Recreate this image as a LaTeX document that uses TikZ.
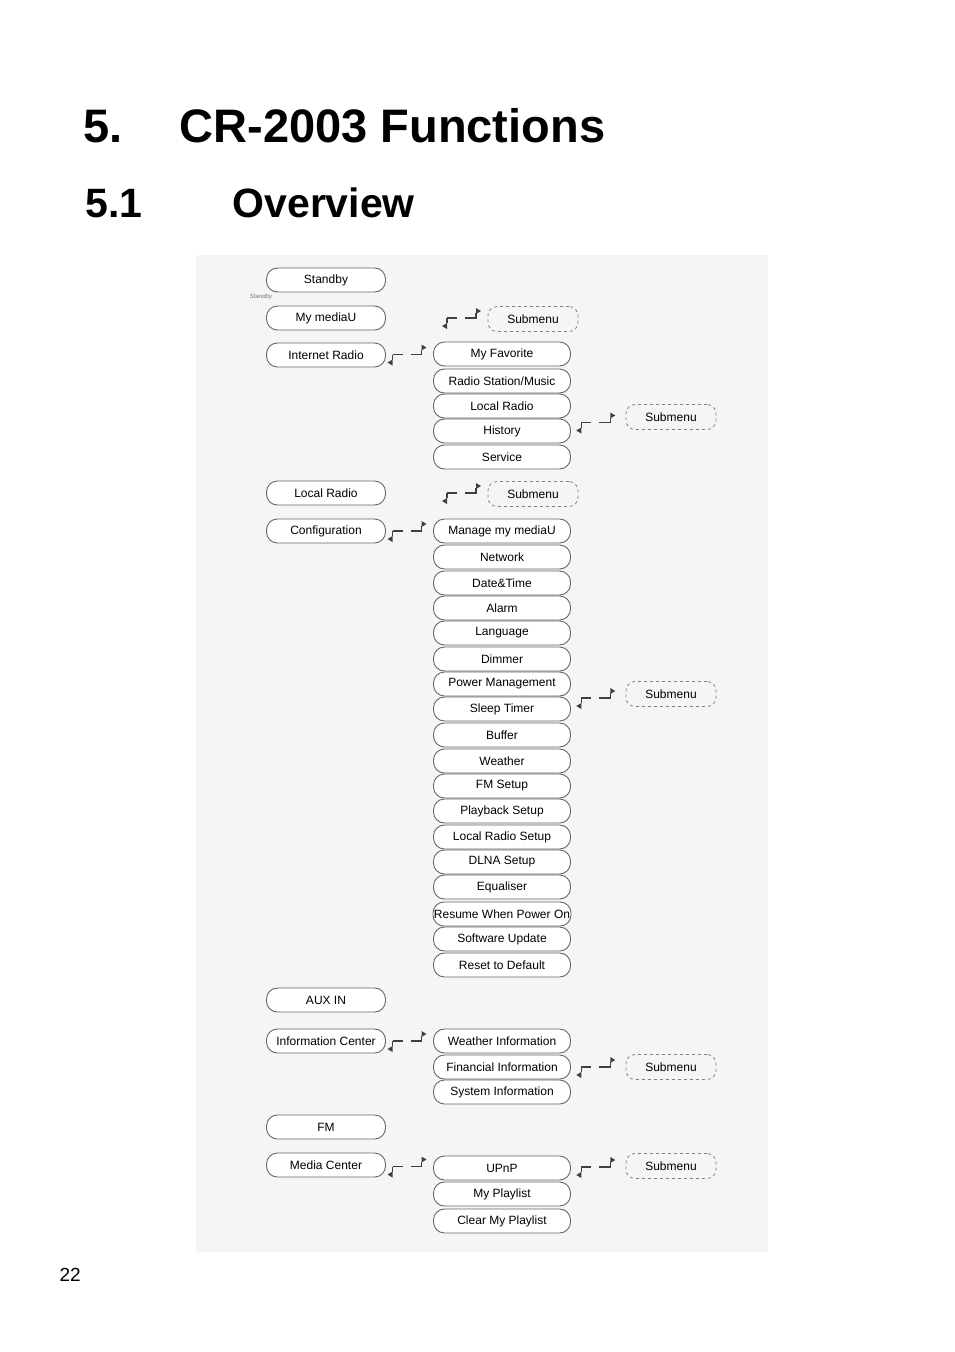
\documentclass[tikz,border=0pt]{standalone}
\usepackage{fontspec}
\setmainfont{Liberation Sans}
\usepackage{tikz}
\usetikzlibrary{positioning, calc}

\tikzset{
  menubox/.style={draw=black!60, line width=0.9pt, rounded corners=11pt, minimum width=119pt, minimum height=24pt,
    inner sep=1pt, font=\fontsize{12}{14}\selectfont, fill=white},
  subbox/.style={menubox, minimum width=137pt},
  dashbox/.style={draw=black!50, dashed, line width=0.8pt, rounded corners=9pt, minimum width=90pt, minimum height=25pt,
    font=\fontsize{12}{14}\selectfont},
  swap/.pic={
    \draw[black!75, line width=1.3pt] (-17,0)--(-7,0) (1,0)--(12,0)--(12,-5) (-17,0)--(-17,5);
    \fill[black!75] (12,-10)--(17,-7)--(12,-4)--cycle;
    \fill[black!75] (-17,5)--(-22,8)--(-17,11)--cycle;
  }
}

\begin{document}
\begin{tikzpicture}[x=1pt,y=-1pt]
\useasboundingbox (0,0) rectangle (954,1352);
% page headings
\node[anchor=base west, font=\fontsize{47}{50}\selectfont\bfseries] (hA) at (80,142) {5.};
\node[anchor=base west, font=\fontsize{47}{50}\selectfont\bfseries] (hB) at (176,142) {CR-2003 Functions};
\node[anchor=base west, font=\fontsize{41}{44}\selectfont\bfseries] (hC) at (82,217) {5.1};
\node[anchor=base west, font=\fontsize{41}{44}\selectfont\bfseries] (hD) at (229,217) {Overview};
\node[anchor=base west, font=\fontsize{19}{22}\selectfont] (page) at (56,1281) {22};

% scanned panel
\fill[black!4] (196,255) rectangle (768,1252);

% main menu
\foreach \name/\y/\txt in {stb/280/Standby, mmu/318/My mediaU, inr/355/Internet Radio,
    lcr/493/Local Radio, cfg/531/Configuration, aux/1000/AUX IN,
    inf/1041/Information Center, fm/1127/FM, mdc/1165/Media Center}
  \node[menubox] (\name) at (326,\y) {\txt};
\node[font=\fontsize{6}{7}\selectfont\itshape, text=black!55] (stbnote) at (261,297) {Standby};

% submenus
\foreach \name/\y/\txt in {fav/354/My Favorite, rsm/381/{Radio Station/Music}, lrd/406/Local Radio,
    hst/431/History, srv/457/Service,
    c1/531/Manage my mediaU, c2/557/Network, c3/583/Date\&Time, c4/608/Alarm,
    c5/633/Language, c6/659/Dimmer, c7/684/Power Management, c8/709/Sleep Timer,
    c9/735/Buffer, c10/761/Weather, c11/786/FM Setup, c12/811/Playback Setup,
    c13/837/Local Radio Setup, c14/862/DLNA Setup, c15/887/Equaliser,
    c16/914/Resume When Power On, c17/939/Software Update, c18/965/Reset to Default,
    i1/1041/Weather Information, i2/1067/Financial Information, i3/1092/System Information,
    m1/1168/UPnP, m2/1194/My Playlist, m3/1221/Clear My Playlist}
  \node[subbox] (\name) at (502,\y) {\txt};

% dashed submenu boxes
\node[dashbox] (sa) at (533,319) {Submenu};
\node[dashbox] (sb) at (671,417) {Submenu};
\node[dashbox] (sc) at (533,494) {Submenu};
\node[dashbox] (sd) at (671,694) {Submenu};
\node[dashbox] (se) at (671,1067) {Submenu};
\node[dashbox] (sf) at (671,1166) {Submenu};

% swap marks
\pic at ($(inr.east)!0.5!(fav.west)$) {swap};
\pic at ($(cfg.east)!0.5!(c1.west)$) {swap};
\pic at ($(inf.east)!0.5!(i1.west)$) {swap};
\pic at ($(mdc.east)!0.5!(m1.west)$) {swap};
\pic at (464,318) {swap};
\pic at (464,493) {swap};
\pic at ($(lrd.east)!0.5!(sb.west)+(0,11)$) {swap};
\pic at ($(c7.east)!0.5!(sd.west)+(0,9)$) {swap};
\pic at ($(i2.east)!0.5!(se.west)$) {swap};
\pic at ($(m1.east)!0.5!(sf.west)$) {swap};
\end{tikzpicture}
\end{document}
